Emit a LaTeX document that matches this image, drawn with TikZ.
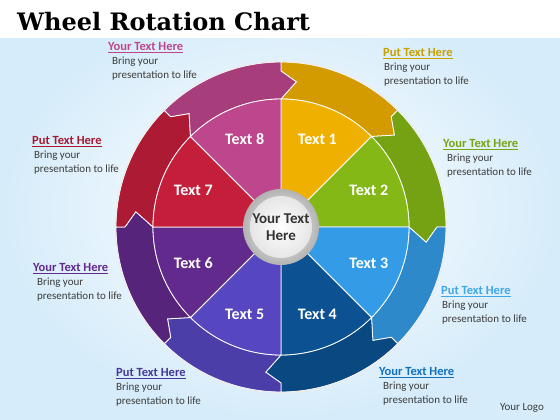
\documentclass[tikz,border=0pt]{standalone}
\usepackage{fontspec}
\setmainfont{Carlito}
\newfontfamily\titlefont{DejaVu Serif}
\usepackage{tikz}
\usetikzlibrary{calc,
                positioning}
\definecolor{bgblue}{RGB}{214,236,250}
\definecolor{bodygray}{RGB}{60,60,60}
\definecolor{gold}{RGB}{240,176,0}
\definecolor{leaf}{RGB}{132,184,22}
\definecolor{sky}{RGB}{52,156,230}
\definecolor{navy}{RGB}{12,82,146}
\definecolor{violet}{RGB}{86,70,192}
\definecolor{plum}{RGB}{98,42,140}
\definecolor{crimson}{RGB}{196,30,58}
\definecolor{rose}{RGB}{190,70,140}
\definecolor{hgold}{RGB}{200,160,0}
\definecolor{hsky}{RGB}{64,168,232}
\definecolor{hblue}{RGB}{16,112,192}
\tikzset{
        sector/.style={draw=white, line width=0.8pt},
        tag/.style={text=white, font=\bfseries\fontsize{16}{18}\selectfont},
        head/.style={anchor=north west, inner sep=0pt,
                     font=\bfseries\fontsize{12.5}{14}\selectfont},
        body/.style={inner sep=0pt, align=left, text=bodygray,
                     font=\fontsize{11}{14}\selectfont},
 }

\begin{document}
\begin{tikzpicture}[x=1pt,y=1pt]
    \useasboundingbox (0,0) rectangle (560,420);
    \shade[inner color=white, outer color=bgblue] (0,0) rectangle (560,420);
    \fill[white] (0,382) rectangle (560,420);

    \node[anchor=base west, inner sep=0pt,
          font=\titlefont\bfseries\fontsize{24}{26}\selectfont] (title) at (17,389)
          {Wheel Rotation Chart};

    \coordinate (c) at (281,193);

    % outer arrows and inner sectors
    \foreach \i/\a/\col in {1/90/gold, 2/45/leaf, 3/0/sky, 4/-45/navy,
                            5/-90/violet, 6/-135/plum, 7/180/crimson, 8/135/rose}{
        \fill[\col!88!black, sector] ($(c)+(\a:165)$)
            arc[start angle=\a, end angle=\a-45, radius=165]
            -- ($(c)+(\a-45:156)$) -- ($(c)+(\a-51:146)$) -- ($(c)+(\a-45:128)$)
            arc[start angle=\a-45, end angle=\a, radius=128]
            -- ($(c)+(\a-6:146)$) -- ($(c)+(\a:156)$) -- cycle;
        \fill[\col, sector] (c) -- ($(c)+(\a:128)$)
            arc[start angle=\a, end angle=\a-45, radius=128] -- cycle;
        \node[tag] (t\i) at ($(c)+(\a-22.5:95)$) {Text \i};
    }
    \draw[white!85!gray, line width=1.2pt] (c) circle (165.5);

    % hub
    \shade[inner color=white, outer color=gray!60] (c) circle (38);
    \shade[inner color=white, outer color=gray!20] (c) circle (31);
    \node[align=center, text=black!80, font=\bfseries\fontsize{15}{17}\selectfont] (hub) at (c)
          {Your Text\\Here};

    % side notes
    \node[head, text=rose] (h8) at (108,378) {\underline{Your Text Here}};
    \node[body, below right=4pt and 4pt of h8.south west, anchor=north west] (b8)
          {Bring your\\presentation to life};
    \node[head, text=hgold] (h1) at (383,372) {\underline{Put Text Here}};
    \node[body, below right=4pt and 1pt of h1.south west, anchor=north west] (b1)
          {Bring your\\presentation to life};
    \node[head, text=leaf!90!black] (h2) at (443,281) {\underline{Your Text Here}};
    \node[body, below right=4pt and 4pt of h2.south west, anchor=north west] (b2)
          {Bring your\\presentation to life};
    \node[head, text=crimson!85!black] (h7) at (32,284) {\underline{Put Text Here}};
    \node[body, below right=4pt and 2pt of h7.south west, anchor=north west] (b7)
          {Bring your\\presentation to life};
    \node[head, text=plum] (h6) at (33,157) {\underline{Your Text Here}};
    \node[body, below right=4pt and 4pt of h6.south west, anchor=north west] (b6)
          {Bring your\\presentation to life};
    \node[head, text=hsky] (h3) at (441,134) {\underline{Put Text Here}};
    \node[body, below right=4pt and 1pt of h3.south west, anchor=north west] (b3)
          {Bring your\\presentation to life};
    \node[head, text=violet!80!black] (h5) at (116,52) {\underline{Put Text Here}};
    \node[body, below right=4pt and 0pt of h5.south west, anchor=north west] (b5)
          {Bring your\\presentation to life};
    \node[head, text=hblue] (h4) at (379,53) {\underline{Your Text Here}};
    \node[body, below right=4pt and 4pt of h4.south west, anchor=north west] (b4)
          {Bring your\\presentation to life};

    \node[body] (logo) at (522,12) {Your Logo};
\end{tikzpicture}
\end{document}
